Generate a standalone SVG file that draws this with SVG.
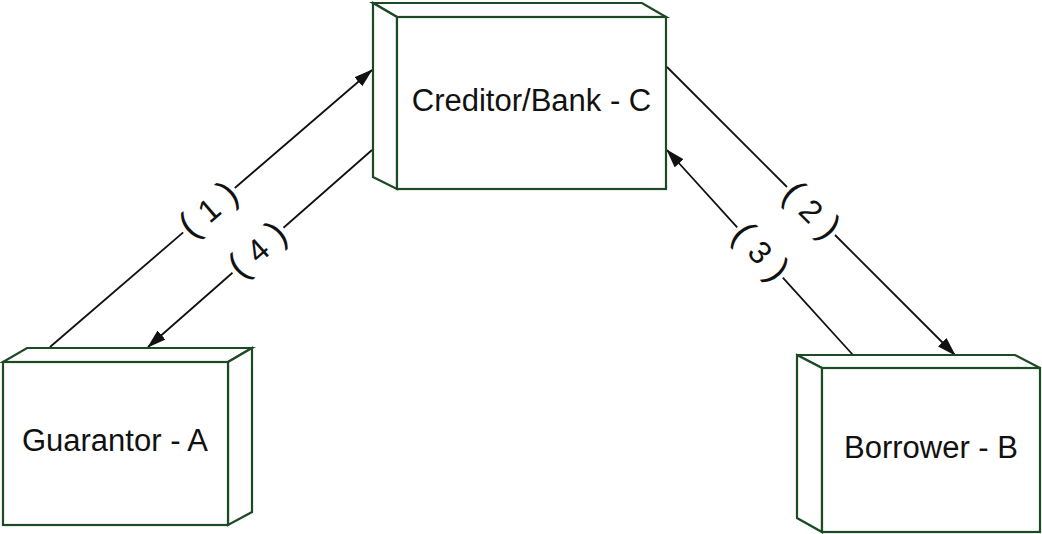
<svg xmlns="http://www.w3.org/2000/svg" width="1042" height="534" viewBox="0 0 1042 534">
<style>
.box{fill:#fff;stroke:#1c4a24;stroke-width:2.2;stroke-linejoin:miter}
.name{font-family:"Liberation Sans",Arial,sans-serif;font-size:31px;fill:#111;text-anchor:middle}
.conn{fill:none;stroke:#111;stroke-width:1.8}
.lbl{font-family:"Liberation Sans",Arial,sans-serif;fill:#111;text-anchor:middle}
.p{font-size:37px}
.d{font-size:32px}
</style>
<defs>
<marker id="arr" markerUnits="userSpaceOnUse" markerWidth="20" markerHeight="14" viewBox="0 0 20 14" refX="18" refY="6" orient="auto">
<path d="M0,0 L19,6 L0,12 z" fill="#111"/>
</marker>
</defs>
<rect width="1042" height="534" fill="#fff"/>
<g id="connectors">
<path class="conn" d="M50,347 L183.2,232.4 M234.8,188 L372,70" marker-end="url(#arr)"/>
<path class="conn" d="M372,150 L283.5,227.8 M232.5,272.8 L148,347" marker-end="url(#arr)"/>
<path class="conn" d="M667,67 L787,187 M835,235 L955,355" marker-end="url(#arr)"/>
<path class="conn" d="M853,355 L782.8,277.7 M737.2,227.3 L667,150" marker-end="url(#arr)"/>
<g id="label-1" transform="translate(209,210) rotate(-40.7)"><text class="lbl" y="11"><tspan class="p">(</tspan><tspan class="d" dx="2"> 1 </tspan><tspan class="p" dx="2">)</tspan></text></g>
<g id="label-4" transform="translate(258,250.3) rotate(-41.3)"><text class="lbl" y="11"><tspan class="p">(</tspan><tspan class="d" dx="2"> 4 </tspan><tspan class="p" dx="2">)</tspan></text></g>
<g id="label-2" transform="translate(811,211) rotate(45)"><text class="lbl" y="11"><tspan class="p">(</tspan><tspan class="d" dx="2"> 2 </tspan><tspan class="p" dx="2">)</tspan></text></g>
<g id="label-3" transform="translate(760,252.5) rotate(47.8)"><text class="lbl" y="11"><tspan class="p">(</tspan><tspan class="d" dx="2"> 3 </tspan><tspan class="p" dx="2">)</tspan></text></g>
</g>
<g id="creditor">
<polygon class="box" points="397,17 373,3 642,3 666,17"/>
<polygon class="box" points="397,17 373,3 373,177 397,189"/>
<rect class="box" x="397" y="17" width="269" height="172"/>
<text class="name" x="531.5" y="111">Creditor/Bank - C</text>
</g>
<g id="guarantor">
<polygon class="box" points="3,362 27,348 252,348 228,362"/>
<polygon class="box" points="228,362 252,348 252,512 228,525"/>
<rect class="box" x="3" y="362" width="225" height="163"/>
<text class="name" x="115" y="451">Guarantor - A</text>
</g>
<g id="borrower">
<polygon class="box" points="822,368 797,355 1015,355 1040,368"/>
<polygon class="box" points="822,368 797,355 797,518 822,532"/>
<rect class="box" x="822" y="368" width="218" height="164"/>
<text class="name" x="931" y="458">Borrower - B</text>
</g>
</svg>
